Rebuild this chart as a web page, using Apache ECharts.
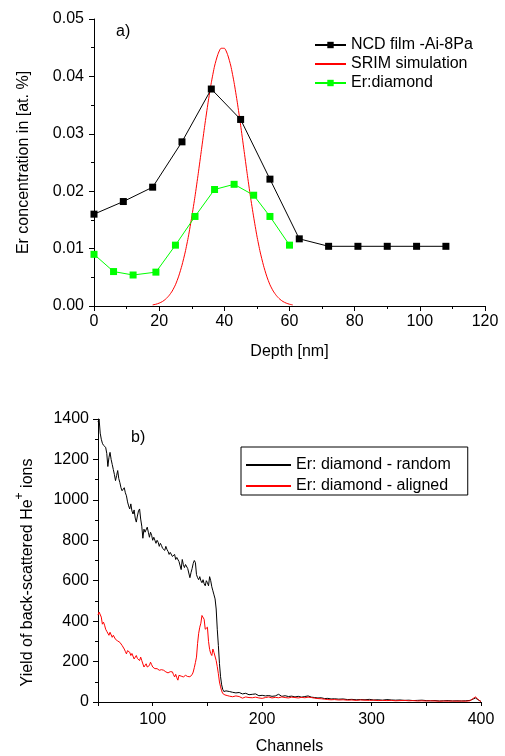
<!DOCTYPE html>
<html>
<head>
<meta charset="utf-8">
<script src="https://cdn.jsdelivr.net/npm/echarts@6/dist/echarts.min.js"></script>
<style>
  html, body { margin: 0; padding: 0; background: #fff; }
  #chart { width: 505px; height: 756px; }
</style>
</head>
<body>
<div id="chart"></div>
<script>
// a) Er depth profiles
const depthNcd = [0, 9, 18, 27, 36, 45, 54, 63, 72, 81, 90, 99, 108];
const concNcd = [0.0160, 0.0182, 0.0207, 0.0286, 0.0378, 0.0325, 0.0221, 0.0117, 0.0104, 0.0104, 0.0104, 0.0104, 0.0104];
const depthEr = [0, 6, 12, 19, 25, 31, 37, 43, 49, 54, 60];
const concEr = [0.0090, 0.0060, 0.0054, 0.0059, 0.0106, 0.0156, 0.0203, 0.0212, 0.0193, 0.0156, 0.0106];
const depthSrim = [18, 19, 20, 21, 22, 23, 24, 25, 26, 27, 28, 29, 30, 31, 32, 33, 34, 35, 36, 37, 38, 39,
  40, 41, 42, 43, 44, 45, 46, 47, 48, 49, 50, 51, 52, 53, 54, 55, 56, 57, 58, 59, 60, 61];
const concSrim = [0.00019, 0.00031, 0.0005, 0.00078, 0.0012, 0.0018, 0.0026, 0.0037, 0.0052, 0.0071, 0.0094,
  0.0122, 0.0155, 0.0191, 0.0231, 0.0273, 0.0315, 0.0354, 0.0389, 0.0418, 0.0438, 0.0449,
  0.0449, 0.0438, 0.0418, 0.0389, 0.0354, 0.0315, 0.0273, 0.0231, 0.0191, 0.0155, 0.0122, 0.0094,
  0.0071, 0.0052, 0.0037, 0.0026, 0.0018, 0.0012, 0.00078, 0.0005, 0.00031, 0.00019];

// b) RBS spectra [channel, yield]
const randomSpectrum = [
  [50,1385],[51,1400],[52,1330],[53,1300],[54,1280],[55,1270],[56,1265],[57,1260],[58,1230],[59,1165],
  [60,1210],[61,1235],[62,1200],[63,1175],[64,1150],[65,1125],[66,1095],[67,1120],[68,1145],[69,1105],
  [70,1085],[71,1060],[72,1045],[73,1040],[74,1060],[75,1035],[76,1020],[77,990],[78,970],[79,955],
  [80,980],[81,945],[82,930],[83,950],[84,910],[85,890],[86,920],[87,945],[88,955],[89,905],
  [90,870],[91,810],[92,855],[93,840],[94,835],[95,865],[96,840],[97,815],[98,840],[99,825],
  [100,800],[101,815],[102,800],[103,785],[104,800],[105,790],[106,770],[107,785],[108,775],[109,760],
  [110,755],[111,750],[112,770],[113,755],[114,745],[115,730],[116,740],[117,745],[118,720],[119,725],
  [120,730],[121,705],[122,715],[123,720],[124,695],[125,690],[126,655],[127,705],[128,680],[129,665],
  [130,680],[131,685],[132,660],[133,655],[134,615],[135,640],[136,660],[137,685],[138,700],[139,690],
  [140,630],[141,615],[142,605],[143,620],[144,600],[145,590],[146,605],[147,585],[148,575],[149,600],
  [150,590],[151,575],[152,620],[153,600],[154,570],[155,550],[156,530],[157,510],[158,460],[159,360],
  [160,280],[161,190],[162,125],[163,85],[164,62],[165,52],[166,50],[167,55],[168,52],
  [170,52],[173,48],[176,45],[179,47],[182,40],[185,43],[188,36],[191,38],[194,40],[197,31],
  [200,33],[203,30],[206,32],[209,28],[212,30],[215,38],[218,28],[221,31],[224,27],[227,29],
  [230,25],[233,28],[236,24],[239,27],[242,30],[245,24],[248,22],[251,20],[254,21],[257,17],
  [260,18],[263,15],[266,16],[270,14],[274,15],[278,12],[282,13],[286,11],[290,12],[294,11],
  [298,13],[302,10],[306,11],[310,9],[314,12],[318,10],[322,9],[326,10],[330,8],[334,9],
  [338,7],[342,8],[346,9],[350,7],[354,6],[358,7],[362,5],[366,6],[370,7],[374,5],
  [378,6],[382,5],[386,6],[390,8],[393,15],[395,20],[397,12],[399,6],[400,2]
];
const alignedSpectrum = [
  [50,430],[51,445],[52,440],[53,420],[54,385],[55,395],[56,380],[57,360],[58,350],[59,345],
  [60,330],[61,345],[62,350],[63,320],[64,330],[65,335],[66,310],[67,305],[68,302],[69,300],
  [70,295],[71,287],[72,280],[73,275],[74,262],[75,250],[76,238],[77,254],[78,250],[79,246],
  [80,230],[81,240],[82,235],[83,213],[84,222],[85,230],[86,215],[87,213],[88,205],[89,222],
  [90,205],[91,197],[92,173],[93,182],[94,189],[95,173],[96,178],[97,181],[98,197],[99,185],
  [100,173],[101,168],[102,165],[103,157],[104,165],[105,162],[106,157],[107,158],[108,160],[109,154],
  [110,157],[111,152],[112,149],[113,146],[114,144],[115,140],[116,150],[117,157],[118,149],[119,135],
  [120,124],[121,137],[122,120],[123,108],[124,132],[125,130],[126,128],[127,137],[128,124],[129,128],
  [130,132],[131,130],[132,126],[133,124],[134,125],[135,132],[136,135],[137,148],[138,170],[139,195],
  [140,222],[141,290],[142,340],[143,370],[144,390],[145,428],[146,434],[147,409],[148,360],[149,369],
  [150,370],[151,300],[152,260],[153,240],[154,230],[155,262],[156,245],[157,238],[158,205],[159,175],
  [160,140],[161,99],[162,75],[163,55],[164,42],[165,38],[166,35],[167,34],[168,32],
  [170,29],[173,26],[176,30],[179,27],[182,19],[185,25],[188,22],[191,21],[194,24],[197,20],
  [200,18],[203,22],[206,25],[209,20],[212,23],[215,21],[218,25],[221,22],[224,20],[227,24],
  [230,22],[233,20],[236,23],[239,21],[242,24],[245,22],[248,19],[251,17],[254,16],[257,14],
  [260,12],[263,11],[266,12],[270,10],[274,11],[278,9],[282,10],[286,8],[290,10],[294,9],
  [298,8],[302,9],[306,7],[310,8],[314,7],[318,8],[322,6],[326,7],[330,8],[334,6],
  [338,7],[342,5],[346,6],[350,5],[354,6],[358,5],[362,4],[366,5],[370,4],[374,5],
  [378,4],[382,5],[386,4],[390,6],[393,18],[395,25],[397,15],[399,5],[400,3]
];

const font = 'Liberation Sans, Arial, sans-serif';
const txt = { fontFamily: font, fontSize: 16, color: '#000' };
const noSymbol = { opacity: 0 };

function axisBase(extra) {
  return Object.assign({
    type: 'value',
    axisLine: { show: true, onZero: false, lineStyle: { color: '#000', width: 1 } },
    axisTick: { show: true, length: 5, lineStyle: { color: '#000' } },
    minorTick: { show: true, splitNumber: 2, length: 3, lineStyle: { color: '#000' } },
    splitLine: { show: false },
    axisLabel: Object.assign({ margin: 8 }, txt),
    nameTextStyle: txt,
    nameLocation: 'middle'
  }, extra);
}

const chart = echarts.init(document.getElementById('chart'));
chart.setOption({
  animation: false,
  backgroundColor: '#fff',
  title: [
    { text: 'a)', left: 111, top: 19, textStyle: Object.assign({ fontWeight: 'normal' }, txt) },
    { text: 'b)', left: 126, top: 425, textStyle: Object.assign({ fontWeight: 'normal' }, txt) }
  ],
  legend: [
    {
      orient: 'vertical',
      left: 310,
      top: 33,
      itemWidth: 31,
      itemHeight: 8,
      itemGap: 3,
      padding: 4,
      textStyle: Object.assign({ lineHeight: 16 }, txt),
      data: [
        'NCD film -Ai-8Pa',
        { name: 'SRIM simulation', itemStyle: noSymbol },
        'Er:diamond'
      ]
    },
    {
      orient: 'vertical',
      left: 241,
      top: 447,
      itemWidth: 45,
      itemHeight: 8,
      itemGap: 5,
      padding: [10, 17, 1, 4],
      borderColor: '#000',
      borderWidth: 1,
      textStyle: Object.assign({ lineHeight: 16 }, txt),
      data: [
        { name: 'Er: diamond - random', itemStyle: noSymbol },
        { name: 'Er: diamond - aligned', itemStyle: noSymbol }
      ]
    }
  ],
  grid: [
    { left: 94, top: 19, width: 391, height: 287 },
    { left: 98, top: 419, width: 383, height: 286 }
  ],
  xAxis: [
    axisBase({
      gridIndex: 0, min: 0, max: 120, interval: 20,
      name: 'Depth [nm]', nameGap: 38
    }),
    axisBase({
      gridIndex: 1, min: 50, max: 400, interval: 50,
      minorTick: { show: false },
      axisTick: { show: true, length: 4, lineStyle: { color: '#000' } },
      axisLabel: Object.assign({ margin: 10, formatter: v => (v % 100 === 0 ? String(v) : '') }, txt),
      name: 'Channels', nameGap: 37
    })
  ],
  yAxis: [
    axisBase({
      gridIndex: 0, min: 0, max: 0.05, interval: 0.01,
      axisLabel: Object.assign({ margin: 10, formatter: v => v.toFixed(2) }, txt),
      name: 'Er concentration in [at. %]', nameGap: 62
    }),
    axisBase({
      gridIndex: 1, min: 0, max: 1400, interval: 200,
      axisLabel: Object.assign({ margin: 9, formatter: v => String(v) }, txt),
      name: '{n|Yield of back-scattered He}{s|+}{n| ions}{sp|}',
      nameGap: 62,
      nameTextStyle: {
        rich: {
          n: { fontFamily: font, fontSize: 16, color: '#000', lineHeight: 22, verticalAlign: 'bottom' },
          s: { fontFamily: font, fontSize: 12, color: '#000', lineHeight: 14, verticalAlign: 'top' },
          sp: { width: 24, lineHeight: 22 }
        }
      }
    })
  ],
  series: [
    {
      name: 'NCD film -Ai-8Pa', type: 'line', xAxisIndex: 0, yAxisIndex: 0,
      data: depthNcd.map((d, i) => [d, concNcd[i]]),
      symbol: 'rect', symbolSize: 7,
      itemStyle: { color: '#000' },
      lineStyle: { color: '#000', width: 1 },
      z: 3
    },
    {
      name: 'SRIM simulation', type: 'line', xAxisIndex: 0, yAxisIndex: 0,
      data: depthSrim.map((d, i) => [d, concSrim[i]]),
      symbol: 'none', smooth: 0.2,
      itemStyle: { color: '#ff0000' },
      lineStyle: { color: '#ff0000', width: 1 },
      z: 2
    },
    {
      name: 'Er:diamond', type: 'line', xAxisIndex: 0, yAxisIndex: 0,
      data: depthEr.map((d, i) => [d, concEr[i]]),
      symbol: 'rect', symbolSize: 7,
      itemStyle: { color: '#00ff00' },
      lineStyle: { color: '#00ff00', width: 1 },
      z: 3
    },
    {
      name: 'Er: diamond - random', type: 'line', xAxisIndex: 1, yAxisIndex: 1,
      data: randomSpectrum,
      symbol: 'none',
      itemStyle: { color: '#000' },
      lineStyle: { color: '#000', width: 1 }
    },
    {
      name: 'Er: diamond - aligned', type: 'line', xAxisIndex: 1, yAxisIndex: 1,
      data: alignedSpectrum,
      symbol: 'none',
      itemStyle: { color: '#ff0000' },
      lineStyle: { color: '#ff0000', width: 1 }
    }
  ]
});
</script>
</body>
</html>
